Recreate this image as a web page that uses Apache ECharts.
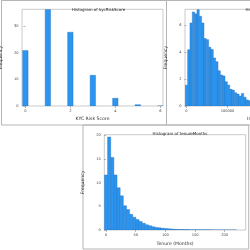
<!DOCTYPE html>
<html>
<head>
<meta charset="utf-8">
<script src="https://cdn.jsdelivr.net/npm/echarts@6/dist/echarts.min.js"></script>
<style>
  html, body { margin: 0; padding: 0; background: #fff; }
  #chart { width: 250px; height: 250px; }
</style>
</head>
<body>
<div id="chart"></div>
<script>
// kycRiskScore histogram
const kycScores = [0, 1, 2, 3, 4, 5, 6];
const kycFreq = [20.8, 36.3, 27.7, 11.5, 2.9, 0.5, 0.04];
const kycTicksX = [0, 2, 4, 6];
const kycTicksY = [0, 10, 20, 30];

// annualIncome histogram (bin width 5700)
const incomeBin = 5700;
const incomeFreq = [1.55, 4.19, 6.18, 7.0, 6.86, 7.18, 6.68, 6.18, 5.02, 4.94, 4.37, 4.2,
  3.58, 3.3, 2.63, 2.31, 2.24, 1.81, 1.56, 1.24, 1.19, 0.99, 0.89, 0.75, 0.94, 0.65,
  0.45, 0.4, 0.38, 0.33, 0.3, 0.27, 0.24, 0.2, 0.18, 0.16, 0.14, 0.12, 0.11, 0.1, 0.09,
  0.08, 0.07, 0.06, 0.05, 0.05, 0.04, 0.04, 0.03, 0.03, 0.03, 0.02, 0.02, 0.02, 0.02,
  0.01, 0.01, 0.01, 0.01, 0.01];
const incomeTicksX = [0, 100000, 200000, 300000];
const incomeTicksY = [0, 2, 4, 6];

// tenureMonths histogram (bin width 5.3)
const tenureBin = 5.3;
const tenureFreq = [11.6, 19.6, 15.3, 11.6, 8.9, 7.2, 5.1, 4.3, 3.3, 2.7, 2.2, 1.8, 1.4,
  1.1, 0.9, 0.7, 0.55, 0.45, 0.35, 0.3, 0.25, 0.2, 0.15, 0.12, 0.1, 0.1, 0.08, 0.06,
  0.05, 0.05, 0.04, 0.04, 0.03, 0.03, 0.02, 0.02, 0.02, 0.01, 0.01, 0.01, 0.01, 0.01];
const tenureTicksX = [0, 50, 100, 150, 200];
const tenureTicksY = [0, 5, 10, 15, 20];

const FONT = 'DejaVu Sans';
const BAR = '#2b95ef';
const EDGE = '#2170bd';

function histItem(width) {
  return function (params, api) {
    const c = api.value(0), h = api.value(1);
    const p0 = api.coord([c - width / 2, h]);
    const p1 = api.coord([c + width / 2, 0]);
    return {
      type: 'rect',
      shape: { x: p0[0], y: p0[1], width: p1[0] - p0[0], height: p1[1] - p0[1] },
      style: { fill: BAR, stroke: EDGE, lineWidth: 0.4 }
    };
  };
}

function xAx(idx, min, max, ticks, name, gap) {
  return {
    type: 'value', gridIndex: idx, min: min, max: max,
    name: name, nameLocation: 'middle', nameGap: gap,
    nameTextStyle: { fontSize: 4.6, color: '#333', fontFamily: FONT },
    axisLine: { show: false },
    splitLine: { show: false },
    axisTick: { show: true, length: 2, customValues: ticks, lineStyle: { color: '#888', width: 0.6 } },
    axisLabel: { customValues: ticks, fontSize: 3.6, color: '#444', margin: 3.5, fontFamily: FONT,
      formatter: v => String(v) }
  };
}

function yAx(idx, max, ticks, gap) {
  return {
    type: 'value', gridIndex: idx, min: 0, max: max,
    name: 'Frequency', nameLocation: 'middle', nameGap: gap,
    nameTextStyle: { fontSize: 4.6, color: '#333', fontFamily: FONT },
    axisLine: { show: false },
    splitLine: { show: false },
    axisTick: { show: true, length: 2, customValues: ticks, lineStyle: { color: '#888', width: 0.6 } },
    axisLabel: { customValues: ticks, fontSize: 3.6, color: '#444', margin: 3.5, fontFamily: FONT,
      formatter: v => String(v) }
  };
}

const gridStyle = { show: true, borderColor: '#bdbdbd', borderWidth: 0.8, backgroundColor: '#fff',
  outerBoundsMode: 'none', containLabel: false };

const chart = echarts.init(document.getElementById('chart'), null, { renderer: 'canvas' });
chart.setOption({
  animation: false,
  textStyle: { fontFamily: FONT },
  graphic: [
    { type: 'rect', shape: { x: 1.5, y: 0.5, width: 165, height: 124.5 }, style: { fill: 'none', stroke: '#b5b5b5', lineWidth: 1 } },
    { type: 'rect', shape: { x: 166.5, y: 0.5, width: 170, height: 124.5 }, style: { fill: 'none', stroke: '#b5b5b5', lineWidth: 1 } },
    { type: 'rect', shape: { x: 83, y: 125, width: 165.7, height: 124 }, style: { fill: 'none', stroke: '#b5b5b5', lineWidth: 1 } }
  ],
  title: [
    { text: 'Histogram of kycRiskScore', left: 93.5, top: 3, textAlign: 'center',
      textStyle: { fontSize: 4, fontWeight: 'normal', color: '#222' } },
    { text: 'Histogram of annualIncome', left: 240.5, top: 3,
      textStyle: { fontSize: 4, fontWeight: 'normal', color: '#222' } },
    { text: 'Histogram of tenureMonths', left: 175, top: 127.3, textAlign: 'center',
      textStyle: { fontSize: 4, fontWeight: 'normal', color: '#222' } }
  ],
  grid: [
    Object.assign({ left: 22, top: 9.3, width: 141, height: 96.7 }, gridStyle),
    Object.assign({ left: 185, top: 9.3, width: 141, height: 96.7 }, gridStyle),
    Object.assign({ left: 104.3, top: 134.7, width: 141.4, height: 95.3 }, gridStyle)
  ],
  xAxis: [
    xAx(0, -0.15, 6.12, kycTicksX, 'KYC Risk Score', 10.5),
    xAx(1, -3500, 340000, incomeTicksX, 'Income', 10.5),
    xAx(2, -2.9, 235.3, tenureTicksX, 'Tenure (Months)', 11.5)
  ],
  yAxis: [
    yAx(0, 36.3, kycTicksY, 13.5),
    yAx(1, 7.2, incomeTicksY, 11),
    yAx(2, 20.1, tenureTicksY, 13.5)
  ],
  series: [
    { type: 'custom', xAxisIndex: 0, yAxisIndex: 0, clip: true, renderItem: histItem(0.24),
      data: kycScores.map((s, i) => [s, kycFreq[i]]) },
    { type: 'custom', xAxisIndex: 1, yAxisIndex: 1, clip: true, renderItem: histItem(incomeBin),
      data: incomeFreq.map((f, i) => [i * incomeBin, f]) },
    { type: 'custom', xAxisIndex: 2, yAxisIndex: 2, clip: true, renderItem: histItem(tenureBin),
      data: tenureFreq.map((f, i) => [i * tenureBin, f]) }
  ]
});
</script>
</body>
</html>
